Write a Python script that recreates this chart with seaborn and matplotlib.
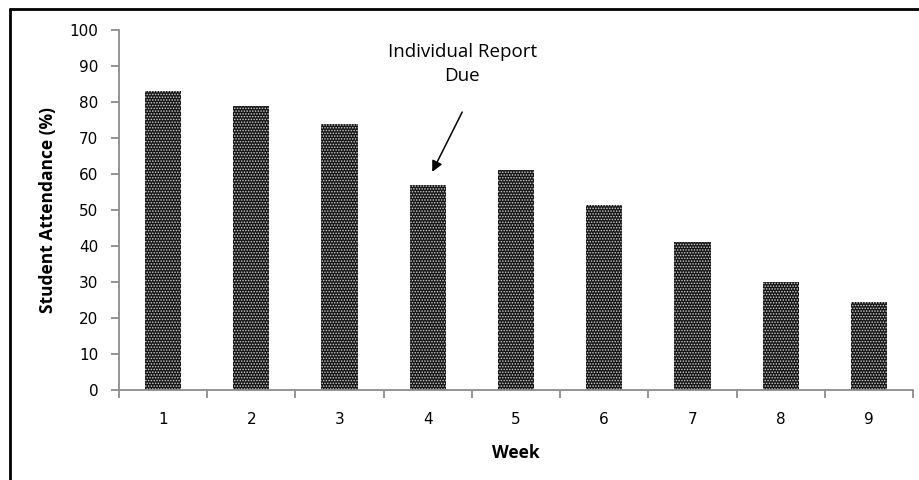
import matplotlib
matplotlib.use("Agg")
import matplotlib.pyplot as plt
from matplotlib.lines import Line2D
import seaborn as sns
import pandas as pd

weeks = ["1", "2", "3", "4", "5", "6", "7", "8", "9"]
attendance = [83, 79, 74, 57, 61, 51.5, 41, 30, 24.5]
y_ticks = [0, 10, 20, 30, 40, 50, 60, 70, 80, 90, 100]

df = pd.DataFrame({"Week": weeks, "Attendance": attendance})

sns.set_style("white")
plt.rcParams["font.family"] = ["Open Sans", "DejaVu Sans"]
plt.rcParams["hatch.linewidth"] = 0.7
plt.rcParams["text.color"] = "black"

fig = plt.figure(figsize=(9.19, 4.8), dpi=100)
ax = fig.add_axes([0.1295, 0.1875, 0.864, 0.75])

sns.barplot(data=df, x="Week", y="Attendance", ax=ax, width=0.41,
            color="#161616", saturation=1)
for bar in ax.patches:
    bar.set_hatch("......")
    bar.set_edgecolor("#d0d0d0")
    bar.set_linewidth(0)

ax.set_xlim(-0.5, len(weeks) - 0.5)
ax.set_ylim(0, 100)
ax.set_yticks(y_ticks)
ax.set_yticklabels([str(v) for v in y_ticks], fontsize=11, family="DejaVu Sans", color="black")

# category labels sit between boundary tick marks
ax.set_xticks(range(len(weeks)))
ax.set_xticklabels(weeks, fontsize=11, family="DejaVu Sans", color="black")
ax.set_xticks([i - 0.5 for i in range(len(weeks) + 1)], minor=True)
ax.tick_params(axis="x", which="major", bottom=False, length=0, pad=16)
ax.tick_params(axis="x", which="minor", bottom=True, length=6, width=1.3, color="#8c8c8c", direction="out")
ax.tick_params(axis="y", which="major", left=True, length=6, width=1.3, color="#8c8c8c", direction="out", pad=9)

for side in ("top", "right"):
    ax.spines[side].set_visible(False)
for side in ("left", "bottom"):
    ax.spines[side].set_color("#8c8c8c")
    ax.spines[side].set_linewidth(1.3)

ax.set_xlabel("Week", fontsize=12.5, fontweight="bold", labelpad=12, color="black")
ax.set_ylabel("Student Attendance (%)", fontsize=12.5, fontweight="bold", labelpad=9, color="black")

ax.text(3.39, 90.5, "Individual Report\nDue", ha="center", va="center",
        fontsize=13.5, linespacing=1.45, color="black")
ax.annotate("", xy=(3.05, 60.6), xytext=(3.39, 77.2),
            arrowprops=dict(arrowstyle="-|>", color="black", lw=1.1,
                            mutation_scale=16, shrinkA=0, shrinkB=0))

# outer chart frame on top and left
fig.add_artist(Line2D([9.5 / 919, 9.5 / 919], [0, 1 - 8.5 / 480], transform=fig.transFigure,
                      color="black", lw=2))
fig.add_artist(Line2D([9.5 / 919, 1], [1 - 8.5 / 480, 1 - 8.5 / 480], transform=fig.transFigure,
                      color="black", lw=2))

fig.savefig("out.png", dpi=100)
